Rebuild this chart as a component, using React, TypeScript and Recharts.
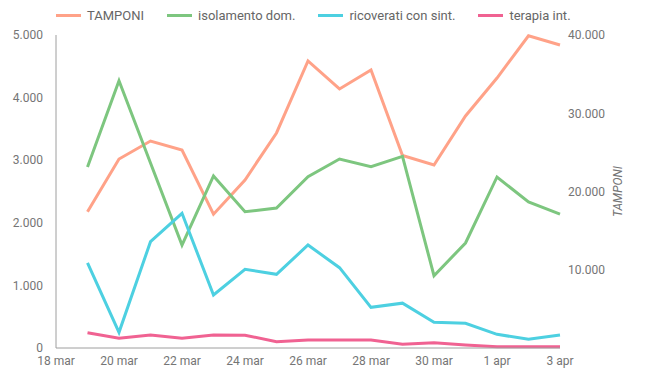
import { LineChart, Line, XAxis, YAxis, Legend } from "recharts";

const dates = [
  "18 mar", "19 mar", "20 mar", "21 mar", "22 mar", "23 mar", "24 mar", "25 mar", "26 mar",
  "27 mar", "28 mar", "29 mar", "30 mar", "31 mar", "1 apr", "2 apr", "3 apr",
];

// right axis
const tamponi = [
  null, 17400, 24150, 26450, 25300, 17100, 21470, 27480, 36680,
  33100, 35530, 24600, 23390, 29650, 34500, 39900, 38720,
];

// left axis
const isolamento = [
  null, 2890, 4270, 2955, 1645, 2748, 2177, 2236, 2737,
  3019, 2896, 3060, 1155, 1677, 2732, 2332, 2140,
];
const ricoverati = [
  null, 1358, 250, 1698, 2152, 847, 1257, 1177, 1645,
  1283, 650, 716, 410, 395, 219, 139, 208,
];
const terapia = [
  null, 245, 155, 208, 155, 208, 205, 101, 128,
  128, 128, 60, 85, 48, 21, 21, 21,
];

const leftTicks = [0, 1000, 2000, 3000, 4000, 5000];
const rightTicks = [10000, 20000, 30000, 40000];

const data = dates.map((d, i) => ({
  date: d,
  tamponi: tamponi[i],
  isolamento: isolamento[i],
  ricoverati: ricoverati[i],
  terapia: terapia[i],
}));

const fmt = (v: number) => String(v).replace(/\B(?=(\d{3})+(?!\d))/g, ".");

const tickStyle = { fill: "#757575", fontSize: 12 };

const renderLegend = (props: any) => {
  const { payload = [] } = props;
  return (
    <div style={{ display: "flex", paddingLeft: 56, fontSize: 13, color: "#666" }}>
      {payload.map((entry: any) => (
        <div
          key={entry.value}
          style={{ display: "flex", alignItems: "center", marginRight: 23 }}
        >
          <span
            style={{
              display: "inline-block",
              width: 25,
              height: 3,
              background: entry.color,
              marginRight: 6,
            }}
          />
          {entry.value}
        </div>
      ))}
    </div>
  );
};

const RightLabel = (props: any) => {
  const { viewBox } = props;
  const x = viewBox.x + 58;
  const y = viewBox.y + viewBox.height / 2;
  return (
    <text
      x={x}
      y={y}
      transform={`rotate(-90, ${x}, ${y})`}
      textAnchor="middle"
      dominantBaseline="central"
      fill="#757575"
      fontSize={12}
      fontStyle="italic"
    >
      TAMPONI
    </text>
  );
};

export default function App() {
  return (
    <div style={{ position: "absolute", left: 0, top: 0, fontFamily: "Roboto" }}>
      <LineChart
        width={646}
        height={380}
        data={data}
        margin={{ top: 35, right: 0, bottom: 2, left: 0 }}
      >
        <XAxis
          dataKey="date"
          interval={1}
          tickLine={false}
          axisLine={{ stroke: "#9e9e9e" }}
          tick={tickStyle}
        />
        <YAxis
          yAxisId="left"
          width={56}
          domain={[0, 5000]}
          ticks={leftTicks}
          tickFormatter={fmt}
          tickLine={false}
          tickMargin={7}
          axisLine={{ stroke: "#9e9e9e" }}
          tick={tickStyle}
        />
        <YAxis
          yAxisId="right"
          orientation="right"
          width={86}
          domain={[0, 40000]}
          ticks={rightTicks}
          tickFormatter={fmt}
          tickLine={false}
          axisLine={false}
          tick={tickStyle}
          label={<RightLabel />}
        />
        <Legend
          verticalAlign="middle"
          align="center"
          wrapperStyle={{ top: 8, left: 0 }}
          content={renderLegend}
        />
        <Line
          yAxisId="right"
          dataKey="tamponi"
          name="TAMPONI"
          stroke="#ffa288"
          strokeWidth={3}
          dot={false}
          isAnimationActive={false}
        />
        <Line
          yAxisId="left"
          dataKey="isolamento"
          name="isolamento dom."
          stroke="#7dc67f"
          strokeWidth={3}
          dot={false}
          isAnimationActive={false}
        />
        <Line
          yAxisId="left"
          dataKey="ricoverati"
          name="ricoverati con sint."
          stroke="#4dd0e1"
          strokeWidth={3}
          dot={false}
          isAnimationActive={false}
        />
        <Line
          yAxisId="left"
          dataKey="terapia"
          name="terapia int."
          stroke="#f06292"
          strokeWidth={3}
          dot={false}
          isAnimationActive={false}
        />
      </LineChart>
    </div>
  );
}
